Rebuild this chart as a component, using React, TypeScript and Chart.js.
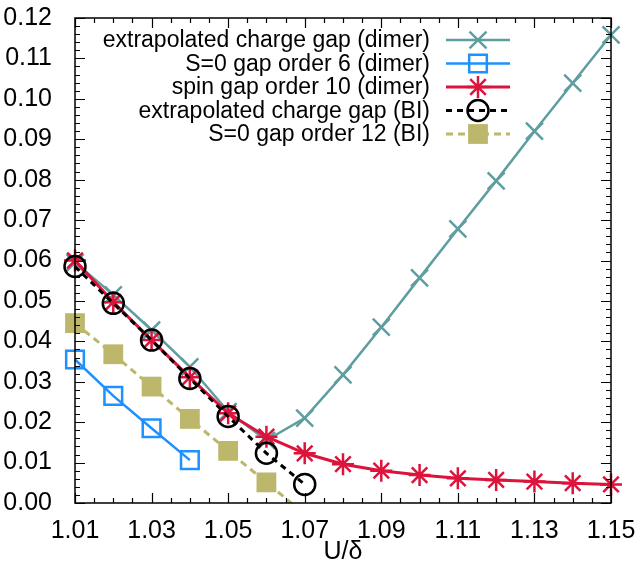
import React, { useEffect, useRef } from 'react';
import { Chart, registerables } from 'chart.js';

Chart.register(...registerables);

const FONT = '"Liberation Sans", Arial, Helvetica, sans-serif';

// ---- data ----
const xAll = [1.01, 1.02, 1.03, 1.04, 1.05, 1.06, 1.07, 1.08, 1.09, 1.1, 1.11, 1.12, 1.13, 1.14, 1.15];
const chargeGapDimer = [0.0595, 0.0515, 0.0428, 0.0337, 0.0226, 0.0155, 0.021, 0.0317, 0.0435, 0.0557, 0.0678, 0.0797, 0.092, 0.1039, 0.1158];
const s0GapDimerX = [1.01, 1.02, 1.03, 1.04];
const s0GapDimer = [0.0355, 0.0265, 0.0185, 0.0106];
const spinGapDimer = [0.06, 0.0497, 0.0403, 0.0311, 0.0222, 0.0164, 0.0123, 0.0096, 0.008, 0.0069, 0.0061, 0.0057, 0.0053, 0.0049, 0.0046];
const biX = [1.01, 1.02, 1.03, 1.04, 1.05, 1.06, 1.07];
const chargeGapBI = [0.0585, 0.0494, 0.0403, 0.0308, 0.0214, 0.0123, 0.0046];
const s0GapBI = [0.0445, 0.0368, 0.0288, 0.0208, 0.0129, 0.0051, -0.0028];

const xTickValues = [1.01, 1.03, 1.05, 1.07, 1.09, 1.11, 1.13, 1.15];
const yTickValues = [0, 0.01, 0.02, 0.03, 0.04, 0.05, 0.06, 0.07, 0.08, 0.09, 0.1, 0.11, 0.12];

const seriesLabels = [
  'extrapolated charge gap (dimer)',
  'S=0 gap order 6 (dimer)',
  'spin gap order 10 (dimer)',
  'extrapolated charge gap (BI)',
  'S=0 gap order 12 (BI)',
];

const toPts = (xs: number[], ys: number[]) => ys.map((y, i) => ({ x: xs[i], y }));

type Marker = 'crossRot' | 'rect' | 'star' | 'circle' | 'rectFilled';

function drawMarker(ctx: CanvasRenderingContext2D, m: Marker, x: number, y: number, r: number, color: string, bw: number) {
  ctx.save();
  ctx.strokeStyle = color;
  ctx.fillStyle = color;
  ctx.lineWidth = bw;
  ctx.setLineDash([]);
  ctx.beginPath();
  const q = Math.SQRT1_2 * r;
  if (m === 'crossRot') {
    ctx.moveTo(x - q, y - q); ctx.lineTo(x + q, y + q);
    ctx.moveTo(x + q, y - q); ctx.lineTo(x - q, y + q);
    ctx.stroke();
  } else if (m === 'rect') {
    ctx.rect(x - q, y - q, 2 * q, 2 * q);
    ctx.stroke();
  } else if (m === 'rectFilled') {
    ctx.rect(x - q, y - q, 2 * q, 2 * q);
    ctx.fill();
  } else if (m === 'star') {
    ctx.moveTo(x - r, y); ctx.lineTo(x + r, y);
    ctx.moveTo(x, y - r); ctx.lineTo(x, y + r);
    ctx.moveTo(x - q, y - q); ctx.lineTo(x + q, y + q);
    ctx.moveTo(x + q, y - q); ctx.lineTo(x - q, y + q);
    ctx.stroke();
  } else if (m === 'circle') {
    ctx.arc(x, y, r, 0, Math.PI * 2);
    ctx.stroke();
  }
  ctx.restore();
}

const legendMarkers: Marker[] = ['crossRot', 'rect', 'star', 'circle', 'rectFilled'];

const framePlugin = {
  id: 'gnuFrame',
  afterDatasetsDraw(chart: any) {
    const { ctx, chartArea: a, scales } = chart;
    const xs = scales.x;
    const ys = scales.y;
    ctx.save();
    ctx.strokeStyle = '#000';
    ctx.lineWidth = 1.5;
    ctx.setLineDash([]);
    ctx.strokeRect(a.left, a.top, a.right - a.left, a.bottom - a.top);
    ctx.lineWidth = 1.2;
    ctx.beginPath();
    for (let k = 0; k <= 28; k++) {
      const v = 1.01 + k * 0.005;
      const px = Math.round(xs.getPixelForValue(v)) + 0.5;
      const len = k % 4 === 0 ? 10 : 5;
      ctx.moveTo(px, a.bottom); ctx.lineTo(px, a.bottom - len);
      ctx.moveTo(px, a.top); ctx.lineTo(px, a.top + len);
    }
    for (let k = 0; k <= 60; k++) {
      const v = k * 0.002;
      const py = Math.round(ys.getPixelForValue(v)) + 0.5;
      const len = k % 5 === 0 ? 10 : 5;
      ctx.moveTo(a.left, py); ctx.lineTo(a.left + len, py);
      ctx.moveTo(a.right, py); ctx.lineTo(a.right - len, py);
    }
    ctx.stroke();
    ctx.restore();
  },
  afterDraw(chart: any) {
    const { ctx } = chart;
    const ds = chart.data.datasets;
    ctx.save();
    ctx.font = `23px ${FONT}`;
    ctx.textAlign = 'right';
    ctx.textBaseline = 'middle';
    for (let i = 0; i < seriesLabels.length; i++) {
      const y = 40 + i * 23.5;
      const d = ds[i];
      ctx.fillStyle = '#000';
      ctx.fillText(seriesLabels[i], 430, y + 1);
      ctx.save();
      ctx.strokeStyle = d.borderColor;
      ctx.lineWidth = d.borderWidth;
      ctx.setLineDash(d.borderDash || []);
      ctx.beginPath();
      ctx.moveTo(446, y);
      ctx.lineTo(510, y);
      ctx.stroke();
      ctx.restore();
      drawMarker(ctx, legendMarkers[i], 478, y, d.legendRadius, d.borderColor, d.pointBorderWidth);
    }
    ctx.restore();
  },
};

export default function App() {
  const ref = useRef<HTMLCanvasElement>(null);
  useEffect(() => {
    const tickFont = { family: FONT, size: 25 };
    const clip = { left: 40, right: 40, top: 40, bottom: 0 };
    const chart = new Chart(ref.current as HTMLCanvasElement, {
      type: 'line',
      data: {
        datasets: [
          {
            label: seriesLabels[0],
            data: toPts(xAll, chargeGapDimer),
            borderColor: '#5f9ea0',
            backgroundColor: '#5f9ea0',
            borderWidth: 2.5,
            pointStyle: 'crossRot',
            pointRadius: 12,
            pointBorderWidth: 2.5,
            legendRadius: 12,
            order: 5,
            clip,
          } as any,
          {
            label: seriesLabels[1],
            data: toPts(s0GapDimerX, s0GapDimer),
            borderColor: '#1e90ff',
            backgroundColor: 'rgba(0,0,0,0)',
            borderWidth: 2.5,
            pointStyle: 'rect',
            pointRadius: 12.5,
            pointBorderWidth: 2.5,
            legendRadius: 12.5,
            order: 4,
            clip,
          } as any,
          {
            label: seriesLabels[2],
            data: toPts(xAll, spinGapDimer),
            borderColor: '#dc143c',
            backgroundColor: '#dc143c',
            borderWidth: 3,
            pointStyle: 'star',
            pointRadius: 11,
            pointBorderWidth: 2.5,
            legendRadius: 11,
            order: 3,
            clip,
          } as any,
          {
            label: seriesLabels[3],
            data: toPts(biX, chargeGapBI),
            borderColor: '#000000',
            backgroundColor: 'rgba(0,0,0,0)',
            borderWidth: 3,
            borderDash: [6, 5],
            pointStyle: 'circle',
            pointRadius: 10.5,
            pointBorderWidth: 2.5,
            legendRadius: 10.5,
            order: 2,
            clip,
          } as any,
          {
            label: seriesLabels[4],
            data: toPts(biX, s0GapBI),
            borderColor: '#bdb76b',
            backgroundColor: '#bdb76b',
            borderWidth: 3,
            borderDash: [7, 5],
            pointStyle: 'rect',
            pointRadius: (c: any) => (c.raw && c.raw.y < 0 ? 0 : 14),
            pointBorderWidth: 0,
            legendRadius: 14,
            order: 1,
            clip,
          } as any,
        ],
      },
      options: {
        responsive: false,
        animation: false,
        devicePixelRatio: 1,
        layout: { padding: { left: 0, right: 26, top: 18, bottom: 0 } },
        elements: { line: { tension: 0, fill: false } },
        plugins: { legend: { display: false }, tooltip: { enabled: false } },
        scales: {
          x: {
            type: 'linear',
            min: 1.01,
            max: 1.15,
            afterBuildTicks: (s: any) => { s.ticks = xTickValues.map((v) => ({ value: v })); },
            afterFit: (s: any) => { s.height = 70; s.paddingLeft = 0; s.paddingRight = 0; },
            ticks: {
              callback: (v: any) => Number(v).toFixed(2),
              font: tickFont,
              color: '#000',
              padding: 5,
              maxRotation: 0,
              autoSkip: false,
            },
            grid: { display: false },
            border: { display: false },
            title: { display: true, text: 'U/δ', font: tickFont, color: '#000', padding: { top: 0, bottom: 6 } },
          },
          y: {
            type: 'linear',
            min: 0,
            max: 0.12,
            afterBuildTicks: (s: any) => { s.ticks = yTickValues.map((v) => ({ value: v })); },
            afterFit: (s: any) => { s.width = 75; s.paddingTop = 0; s.paddingBottom = 0; },
            ticks: {
              callback: (v: any) => Number(v).toFixed(2),
              font: tickFont,
              color: '#000',
              padding: 15,
              autoSkip: false,
            },
            grid: { display: false },
            border: { display: false },
          },
        },
      } as any,
      plugins: [framePlugin],
    });
    return () => chart.destroy();
  }, []);
  return (
    <div style={{ position: 'fixed', left: 0, top: 0, width: 637, height: 573, background: '#fff' }}>
      <canvas ref={ref} width={637} height={573} style={{ display: 'block', width: 637, height: 573 }} />
    </div>
  );
}
